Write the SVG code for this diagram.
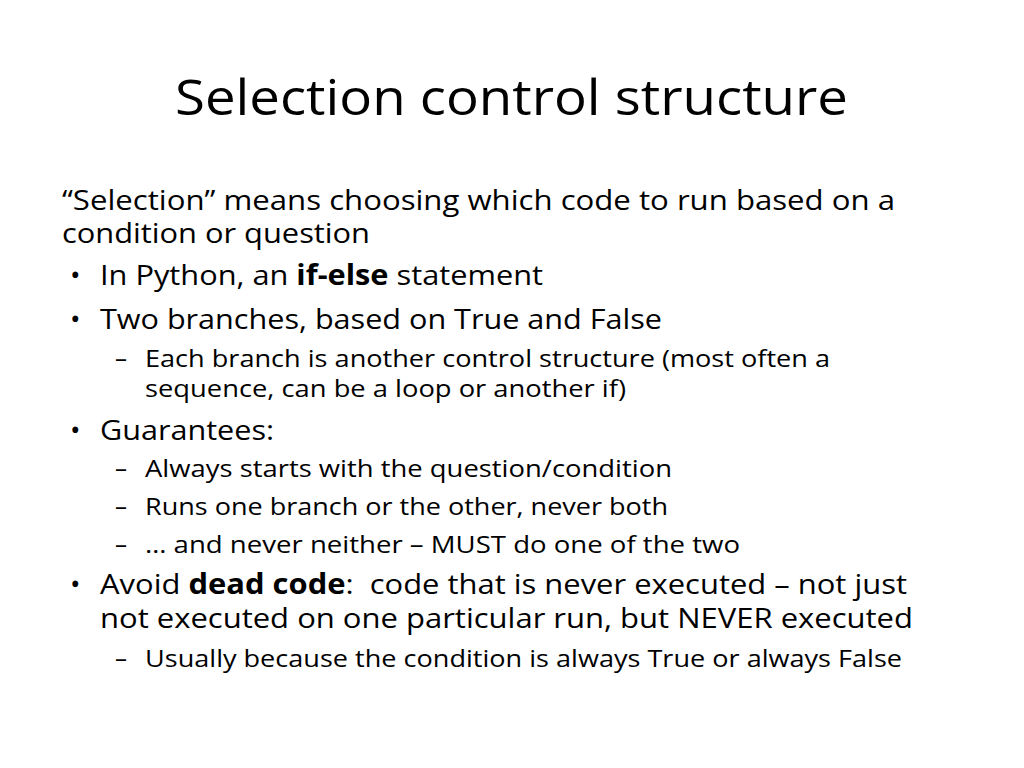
<svg xmlns="http://www.w3.org/2000/svg" width="1024" height="768" viewBox="0 0 1024 768">
<style>
text{font-family:"Open Sans","Liberation Sans",sans-serif;fill:#000}
.t{font-size:50px}
.l1{font-size:28px}
.l2{font-size:24px}
.b{font-weight:bold}
</style>
<rect width="1024" height="768" fill="#fff"/>
<g id="title"><text class="t" x="175" y="115" textLength="673" lengthAdjust="spacingAndGlyphs">Selection control structure</text></g>
<g id="body">
<text class="l1" x="62" y="210" textLength="833" lengthAdjust="spacingAndGlyphs">“Selection” means choosing which code to run based on a</text>
<text class="l1" x="62" y="243" textLength="308" lengthAdjust="spacingAndGlyphs">condition or question</text>
<text class="l1" x="70" y="285">•</text>
<text class="l1" x="100" y="285" textLength="443" lengthAdjust="spacingAndGlyphs">In Python, an <tspan class="b">if-else</tspan> statement</text>
<text class="l1" x="70" y="329">•</text>
<text class="l1" x="100" y="329" textLength="562" lengthAdjust="spacingAndGlyphs">Two branches, based on True and False</text>
<text class="l2" x="115" y="367">–</text>
<text class="l2" x="145" y="367" textLength="685" lengthAdjust="spacingAndGlyphs">Each branch is another control structure (most often a</text>
<text class="l2" x="145" y="397" textLength="481" lengthAdjust="spacingAndGlyphs">sequence, can be a loop or another if)</text>
<text class="l1" x="70" y="440">•</text>
<text class="l1" x="100" y="440" textLength="174" lengthAdjust="spacingAndGlyphs">Guarantees:</text>
<text class="l2" x="115" y="477">–</text>
<text class="l2" x="145" y="477" textLength="527" lengthAdjust="spacingAndGlyphs">Always starts with the question/condition</text>
<text class="l2" x="115" y="515">–</text>
<text class="l2" x="145" y="515" textLength="523" lengthAdjust="spacingAndGlyphs">Runs one branch or the other, never both</text>
<text class="l2" x="115" y="553">–</text>
<text class="l2" x="145" y="553" textLength="595" lengthAdjust="spacingAndGlyphs">… and never neither – MUST do one of the two</text>
<text class="l1" x="70" y="594">•</text>
<text class="l1" x="100" y="594" textLength="807" lengthAdjust="spacingAndGlyphs" xml:space="preserve">Avoid <tspan class="b">dead code</tspan>:  code that is never executed – not just</text>
<text class="l1" x="100" y="628" textLength="813" lengthAdjust="spacingAndGlyphs">not executed on one particular run, but NEVER executed</text>
<text class="l2" x="115" y="667">–</text>
<text class="l2" x="145" y="667" textLength="757" lengthAdjust="spacingAndGlyphs">Usually because the condition is always True or always False</text>
</g>
</svg>
